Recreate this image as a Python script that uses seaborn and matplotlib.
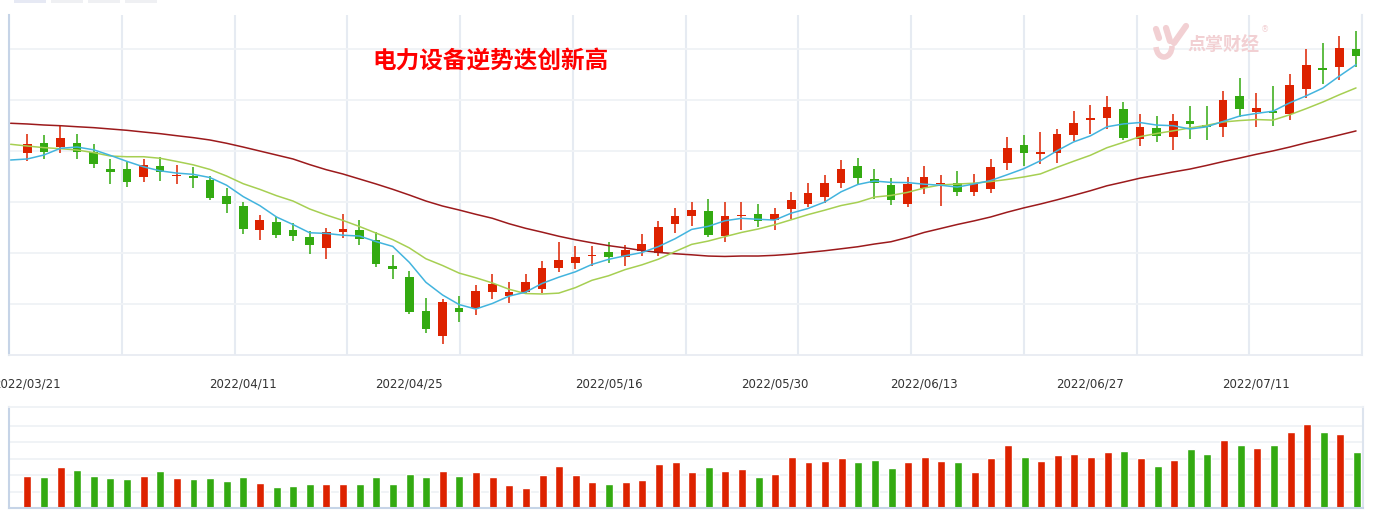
import numpy as np
import pandas as pd
import matplotlib.pyplot as plt
import seaborn as sns
from matplotlib.lines import Line2D
from matplotlib.patches import Rectangle, Arc
from matplotlib.ticker import FixedLocator

# =========================
# Data
# =========================
holidays = ["2022-04-04", "2022-04-05", "2022-05-02", "2022-05-03", "2022-05-04", "2022-06-03"]
dates = pd.bdate_range("2022-03-21", "2022-07-19")
dates = dates[~dates.isin(pd.to_datetime(holidays))]
date_str = list(dates.strftime("%Y/%m/%d"))

label_dates = ["2022/03/21", "2022/04/11", "2022/04/25", "2022/05/16",
               "2022/05/30", "2022/06/13", "2022/06/27", "2022/07/11"]

open_ = [9983, 10078, 10041, 10078, 9989, 9823, 9823, 9747, 9852, 9754,
         9754, 9715, 9558, 9460, 9228, 9303, 9225, 9156, 9052, 9208,
         9225, 9127, 8872, 8764, 8431, 8189, 8461, 8461, 8620, 8581,
         8617, 8650, 8856, 8905, 8970, 9009, 8963, 9022, 9003, 9287,
         9365, 9411, 9169, 9362, 9382, 9326, 9434, 9483, 9551, 9689,
         9852, 9725, 9666, 9483, 9640, 9676, 9686, 9600, 9630, 9882,
         10058, 9973, 9983, 10159, 10306, 10326, 10411, 10120, 10225, 10139,
         10293, 10254, 10237, 10538, 10384, 10394, 10365, 10610, 10813, 10825,
         10999]

high = [10166, 10156, 10254, 10166, 10068, 9921, 9894, 9921, 9940, 9862,
        9842, 9757, 9640, 9499, 9372, 9352, 9294, 9215, 9245, 9382,
        9323, 9202, 8980, 8823, 8559, 8549, 8578, 8686, 8794, 8715,
        8797, 8921, 9107, 9068, 9068, 9107, 9078, 9186, 9313, 9441,
        9499, 9529, 9499, 9499, 9480, 9441, 9597, 9686, 9764, 9911,
        9931, 9823, 9735, 9744, 9852, 9764, 9803, 9774, 9921, 10136,
        10156, 10185, 10215, 10391, 10450, 10538, 10479, 10362, 10339, 10362,
        10440, 10440, 10587, 10715, 10568, 10636, 10754, 10999, 11058, 11126,
        11175]

low = [9904, 9921, 9983, 9921, 9836, 9679, 9649, 9698, 9708, 9679,
       9640, 9522, 9395, 9189, 9130, 9150, 9120, 8993, 8944, 9150,
       9081, 8865, 8748, 8405, 8219, 8111, 8326, 8395, 8552, 8513,
       8598, 8611, 8816, 8846, 8875, 8905, 8875, 8973, 8973, 9199,
       9267, 9159, 9110, 9228, 9257, 9228, 9333, 9450, 9490, 9640,
       9666, 9529, 9473, 9453, 9581, 9463, 9561, 9561, 9591, 9813,
       9855, 9875, 9885, 10100, 10169, 10218, 10110, 10051, 10090, 10012,
       10120, 10110, 10139, 10335, 10237, 10247, 10306, 10522, 10659, 10698,
       10825]

close = [10068, 9992, 10127, 9992, 9875, 9796, 9698, 9859, 9796, 9764,
         9735, 9542, 9483, 9238, 9323, 9179, 9169, 9081, 9205, 9235,
         9140, 8895, 8846, 8424, 8258, 8519, 8424, 8627, 8696, 8617,
         8715, 8853, 8931, 8960, 8980, 8963, 9029, 9088, 9254, 9362,
         9421, 9179, 9362, 9372, 9316, 9382, 9519, 9588, 9686, 9823,
         9738, 9689, 9522, 9676, 9744, 9686, 9600, 9676, 9842, 10029,
         9983, 9989, 10166, 10274, 10323, 10430, 10130, 10234, 10149, 10293,
         10267, 10237, 10499, 10414, 10421, 10375, 10646, 10842, 10796, 11009,
         10933]

volume = [950, 920, 1220, 1130, 950, 890, 860, 950, 1100, 890,
          860, 890, 800, 920, 740, 620, 650, 710, 710, 710,
          710, 920, 710, 1010, 920, 1100, 950, 1070, 920, 680,
          590, 980, 1250, 980, 770, 710, 770, 830, 1310, 1370,
          1070, 1220, 1100, 1160, 920, 1010, 1520, 1370, 1400, 1490,
          1370, 1430, 1190, 1370, 1520, 1400, 1370, 1070, 1490, 1880,
          1520, 1400, 1580, 1610, 1520, 1670, 1700, 1490, 1250, 1430,
          1760, 1610, 2030, 1880, 1790, 1880, 2270, 2510, 2270, 2210,
          1670]

# moving averages before the window is full (day -1 = 2022/03/18 included)
ma5_head = [9911, 9921, 9960, 10026, 10038]
ma10_head = [10065, 10048, 10032, 10022, 10009, 9983, 9950, 9943, 9943, 9928]
ma30_head = [10271, 10264, 10254, 10247, 10237, 10228, 10215, 10202, 10185, 10169,
             10149, 10130, 10107, 10075, 10038, 9999, 9960, 9921, 9866, 9816,
             9774, 9725, 9676, 9624, 9568, 9509, 9460, 9421, 9379, 9340]

# =========================
# Styling
# =========================
RED = "#dd2200"
GREEN = "#33aa11"
ma_colors = {"MA5": "#42b4de", "MA10": "#a6cf52", "MA30": "#9c1a1c"}
GRID = "#e6ebf2"
HGRID = "#eff2f6"
AXIS = "#c6d4e7"
PINK = "#f2d0d3"

sns.set_theme(style="white")
plt.rcParams["font.family"] = ["DejaVu Sans", "Noto Sans CJK SC"]

n = len(close)
idx = np.arange(n)
o = np.array(open_)
c = np.array(close)
up = c >= o
colors = np.where(up, RED, GREEN)

close_s = pd.Series(close, dtype=float)
ma5 = np.concatenate([ma5_head, close_s.rolling(5).mean().values[4:]])
ma10 = np.concatenate([ma10_head, close_s.rolling(10).mean().values[9:]])
ma30 = np.concatenate([ma30_head, close_s.rolling(30).mean().values[29:]])
x_ma = np.arange(-1, n)
ma_df = pd.concat([
    pd.DataFrame({"idx": x_ma, "value": ma5, "line": "MA5"}),
    pd.DataFrame({"idx": x_ma, "value": ma10, "line": "MA10"}),
    pd.DataFrame({"idx": x_ma, "value": ma30, "line": "MA30"}),
])

vol_df = pd.DataFrame({"idx": idx, "volume": volume,
                       "dir": np.where(up, "up", "down")})

# =========================
# Figure layout (pixel boxes)
# =========================
W, H = 1384, 511
fig = plt.figure(figsize=(W / 100, H / 100), dpi=100)
fig.patch.set_facecolor("white")


def box(l, t, r, b):
    return [l / W, 1 - b / H, (r - l) / W, (b - t) / H]


def fpx(x, y):
    return x / W, 1 - y / H


ax = fig.add_axes(box(9, 15, 1362, 355))
axv = fig.add_axes(box(9, 407, 1363, 508))
xlim = (-1.1, 80.36)

# =========================
# Candles
# =========================
body_lo = np.minimum(o, c)
body_h = np.maximum(np.abs(c - o), 8)
ax.vlines(idx, low, high, colors=colors, linewidth=1.1, zorder=2)
ax.bar(idx, body_h, bottom=body_lo, width=0.52, color=colors,
       linewidth=0, zorder=3)

sns.lineplot(data=ma_df, x="idx", y="value", hue="line",
             hue_order=["MA30", "MA10", "MA5"], palette=ma_colors,
             estimator=None, errorbar=None, legend=False,
             linewidth=1.1, zorder=4, ax=ax)

ax.set_xlim(xlim)
ax.set_ylim(8000, 11332)
ax.set_yticks(np.arange(8500, 11001, 500))
ax.set_yticklabels([])
ax.set_xticks([date_str.index(d) for d in label_dates])
ax.set_xticklabels(label_dates)
ax.xaxis.set_minor_locator(FixedLocator(np.linspace(xlim[0], xlim[1], 13)))
ax.tick_params(axis="x", which="major", length=0, pad=16,
               labelsize=8.5, labelcolor="#333333")
ax.tick_params(axis="x", which="minor", length=4, width=1.3,
               color=GRID, direction="out")
ax.tick_params(axis="y", length=0)
ax.grid(False)
ax.grid(True, axis="y", which="major", color=HGRID, linewidth=1.3)
ax.grid(True, axis="x", which="minor", color=GRID, linewidth=1.5)
ax.set_xlabel("")
ax.set_ylabel("")
ax.spines["top"].set_visible(False)
ax.spines["left"].set_color(AXIS)
ax.spines["left"].set_linewidth(1.5)
ax.spines["bottom"].set_color("#e8ecf2")
ax.spines["bottom"].set_linewidth(1.3)
ax.spines["right"].set_color(GRID)
ax.spines["right"].set_linewidth(1.5)
ax.set_axisbelow(True)

# =========================
# Volume
# =========================
sns.barplot(data=vol_df, x="idx", y="volume", hue="dir",
            order=list(range(n)), hue_order=["up", "down"],
            palette={"up": RED, "down": GREEN}, dodge=False,
            width=0.48, saturation=1, errorbar=None, legend=False, ax=axv)
axv.set_xlim(xlim)
axv.set_ylim(0, 3010)
axv.set_xticks([])
axv.set_yticks([490, 980, 1470, 1960, 2450])
axv.set_yticklabels([])
axv.tick_params(length=0)
axv.grid(True, axis="y", color=HGRID, linewidth=1.3)
axv.set_axisbelow(True)
axv.set_xlabel("")
axv.set_ylabel("")
axv.spines["left"].set_color(AXIS)
axv.spines["left"].set_linewidth(1.5)
axv.spines["bottom"].set_color(AXIS)
axv.spines["bottom"].set_linewidth(1.5)
axv.spines["top"].set_color(HGRID)
axv.spines["top"].set_linewidth(1.3)
axv.spines["right"].set_color("#dde4ee")
axv.spines["right"].set_linewidth(1.5)

# =========================
# Title, watermark, tabs
# =========================
fig.text(372 / W, 1 - 62 / H, "电力设备逆势迭创新高", color="#ff0000",
         fontsize=17, fontweight="bold", ha="left", va="center",
         family=["Noto Sans CJK SC", "DejaVu Sans"])

# watermark (logo strokes + name)
fig.text(*fpx(1187, 45), "点掌财经", color=PINK,
         fontsize=13, fontweight="bold", ha="left", va="center",
         family=["Noto Sans CJK SC", "DejaVu Sans"], zorder=5)
fig.text(*fpx(1261, 30), "®", color=PINK, fontsize=6,
         ha="left", va="center", zorder=5)
for (p0, p1) in [((1156, 29), (1159, 38)), ((1166, 28), (1170, 41)),
                 ((1186, 26), (1174, 43))]:
    (x0, y0), (x1, y1) = fpx(*p0), fpx(*p1)
    fig.add_artist(Line2D([x0, x1], [y0, y1], color=PINK, linewidth=4.5,
                          solid_capstyle="round", zorder=5))
cx, cy = fpx(1164, 46)
fig.add_artist(Arc((cx, cy), 16 / W, 22 / H, theta1=200, theta2=360,
                   transform=fig.transFigure, color=PINK, linewidth=4,
                   zorder=5))

for x0 in [14, 51, 88, 125]:
    fig.add_artist(Rectangle((x0 / W, 1 - 3 / H), 32 / W, 3 / H,
                             transform=fig.transFigure,
                             color="#e6e9f4" if x0 == 14 else "#eff0f3",
                             linewidth=0))

fig.savefig("out.png", dpi=100)
